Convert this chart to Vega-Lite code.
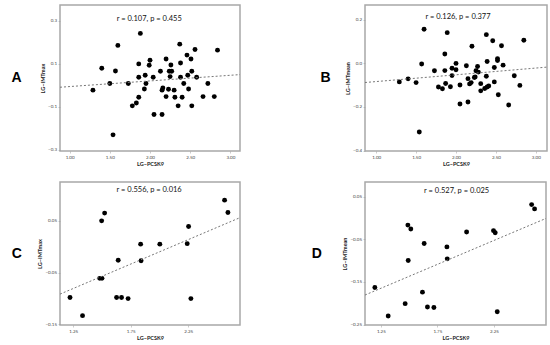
{
  "$schema": "https://vega.github.io/schema/vega-lite/v6.json",
  "padding": {"left": 10, "top": 4, "right": 0, "bottom": 0},
  "background": "white",
  "config": {
    "font": "Lato",
    "view": {"stroke": "#a8a8a8", "strokeWidth": 1.5},
    "axis": {"grid": false, "domain": false, "labelFontSize": 4.5, "labelColor": "#444", "labelOverlap": false, "labelSeparation": -60, "labelFlush": false, "labelBound": false, "tickSize": 2, "tickColor": "#999", "tickWidth": 0.5, "titleFontSize": 5.5, "titleFontWeight": "bold", "titleColor": "#222", "labelPadding": 1.5, "titlePadding": 2},
    "title": {"font": "Liberation Sans", "fontSize": 14, "fontWeight": "bold", "color": "#000"}
  },
  "datasets": {
    "A": [
      {"x":1.29,"y":-0.022},{"x":1.40,"y":0.080},{"x":1.50,"y":0.009},{"x":1.57,"y":0.067},{"x":1.60,"y":0.186},{"x":1.54,"y":-0.230},{"x":1.73,"y":0.009},{"x":1.78,"y":-0.095},{"x":1.83,"y":-0.082},{"x":1.86,"y":-0.055},{"x":1.86,"y":0.038},{"x":1.86,"y":0.100},{"x":1.88,"y":0.242},{"x":1.93,"y":-0.017},{"x":1.94,"y":0.047},{"x":1.95,"y":0.009},{"x":1.99,"y":0.094},{"x":2.00,"y":0.117},{"x":2.04,"y":0.038},{"x":2.05,"y":-0.135},{"x":2.13,"y":0.066},{"x":2.15,"y":-0.022},{"x":2.16,"y":-0.012},{"x":2.15,"y":-0.135},{"x":2.20,"y":0.123},{"x":2.20,"y":-0.052},{"x":2.23,"y":-0.018},{"x":2.24,"y":0.066},{"x":2.25,"y":0.041},{"x":2.26,"y":0.095},{"x":2.27,"y":0.066},{"x":2.30,"y":-0.022},{"x":2.31,"y":-0.055},{"x":2.35,"y":-0.095},{"x":2.37,"y":0.192},{"x":2.38,"y":0.104},{"x":2.38,"y":0.038},{"x":2.40,"y":-0.055},{"x":2.42,"y":0.009},{"x":2.46,"y":0.141},{"x":2.47,"y":0.047},{"x":2.48,"y":-0.017},{"x":2.51,"y":0.123},{"x":2.52,"y":0.066},{"x":2.52,"y":-0.095},{"x":2.56,"y":0.167},{"x":2.58,"y":0.038},{"x":2.66,"y":-0.052},{"x":2.72,"y":0.009},{"x":2.80,"y":-0.052},{"x":2.84,"y":0.164}
    ],
    "B": [
      {"x":1.29,"y":-0.085},{"x":1.40,"y":-0.071},{"x":1.50,"y":-0.088},{"x":1.57,"y":-0.003},{"x":1.60,"y":0.157},{"x":1.54,"y":-0.315},{"x":1.73,"y":-0.034},{"x":1.78,"y":-0.108},{"x":1.83,"y":-0.116},{"x":1.86,"y":0.043},{"x":1.86,"y":-0.033},{"x":1.87,"y":-0.092},{"x":1.89,"y":0.141},{"x":1.93,"y":-0.107},{"x":1.95,"y":-0.022},{"x":1.95,"y":-0.056},{"x":2.00,"y":-0.029},{"x":2.00,"y":0.000},{"x":2.05,"y":-0.099},{"x":2.05,"y":-0.186},{"x":2.13,"y":-0.011},{"x":2.15,"y":-0.070},{"x":2.15,"y":-0.177},{"x":2.17,"y":-0.094},{"x":2.20,"y":0.079},{"x":2.19,"y":-0.088},{"x":2.23,"y":-0.065},{"x":2.24,"y":-0.062},{"x":2.25,"y":-0.034},{"x":2.27,"y":-0.014},{"x":2.28,"y":-0.040},{"x":2.31,"y":-0.093},{"x":2.31,"y":-0.126},{"x":2.36,"y":-0.115},{"x":2.38,"y":0.132},{"x":2.38,"y":-0.059},{"x":2.39,"y":0.009},{"x":2.39,"y":-0.108},{"x":2.41,"y":-0.104},{"x":2.46,"y":0.104},{"x":2.48,"y":-0.019},{"x":2.48,"y":-0.085},{"x":2.52,"y":0.022},{"x":2.52,"y":0.013},{"x":2.53,"y":-0.144},{"x":2.57,"y":0.081},{"x":2.59,"y":-0.008},{"x":2.66,"y":-0.191},{"x":2.73,"y":-0.057},{"x":2.80,"y":-0.101},{"x":2.85,"y":0.106}
    ],
    "C": [
      {"x":1.222,"y":-0.098},{"x":1.331,"y":-0.133},{"x":1.480,"y":-0.061},{"x":1.500,"y":-0.061},{"x":1.497,"y":0.050},{"x":1.523,"y":0.065},{"x":1.627,"y":-0.098},{"x":1.670,"y":-0.098},{"x":1.727,"y":-0.100},{"x":1.641,"y":-0.026},{"x":1.836,"y":0.005},{"x":1.840,"y":-0.027},{"x":2.003,"y":0.005},{"x":2.241,"y":0.006},{"x":2.253,"y":0.039},{"x":2.273,"y":-0.100},{"x":2.566,"y":0.090},{"x":2.595,"y":0.066}
    ],
    "D": [
      {"x":1.197,"y":-0.163},{"x":1.315,"y":-0.230},{"x":1.465,"y":-0.201},{"x":1.489,"y":-0.017},{"x":1.515,"y":-0.026},{"x":1.492,"y":-0.100},{"x":1.618,"y":-0.174},{"x":1.633,"y":-0.060},{"x":1.662,"y":-0.209},{"x":1.719,"y":-0.210},{"x":1.834,"y":-0.068},{"x":1.837,"y":-0.096},{"x":2.008,"y":-0.033},{"x":2.246,"y":-0.030},{"x":2.261,"y":-0.035},{"x":2.279,"y":-0.220},{"x":2.583,"y":0.031},{"x":2.609,"y":0.021}
    ]
  },
  "columns": 2,
  "spacing": {"row": 31, "column": 125},
  "bounds": "flush",
  "concat": [
    {
      "width": 180, "height": 146,
      "title": {"text": "A", "orient": "left", "angle": 0, "offset": 14, "anchor": "middle", "baseline": "middle"},
      "layer": [
        {"data": {"name": "A"}, "mark": {"type": "circle", "size": 24, "color": "black", "opacity": 1},
         "encoding": {
           "x": {"field": "x", "type": "quantitative", "scale": {"domain": [0.88, 3.12], "nice": false, "zero": false}, "axis": {"title": "LG−PCSK9", "values": [1.0, 1.5, 2.0, 2.5, 3.0], "format": ".2f", "labelOverlap": false}},
           "y": {"field": "y", "type": "quantitative", "scale": {"domain": [-0.305, 0.374], "nice": false, "zero": false}, "axis": {"title": "LG−IMTmax", "values": [-0.3, -0.2, -0.1, 0.0, 0.1, 0.2, 0.3], "format": ".1f", "labelOverlap": false}}
         }},
        {"data": {"name": "A"}, "transform": [{"regression": "y", "on": "x", "extent": [0.88, 3.12]}],
         "mark": {"type": "line", "strokeDash": [2, 2], "color": "#777", "strokeWidth": 1},
         "encoding": {"x": {"field": "x", "type": "quantitative"}, "y": {"field": "y", "type": "quantitative"}}},
        {"data": {"values": [{"label": "r = 0.107, p = 0.455", "px": 1.99, "py": 0.31}]},
         "mark": {"type": "text", "fontSize": 7.5, "font": "Lato", "color": "#111"},
         "encoding": {"text": {"field": "label"}, "x": {"field": "px", "type": "quantitative"}, "y": {"field": "py", "type": "quantitative"}}}
      ]
    },
    {
      "width": 182, "height": 146,
      "title": {"text": "B", "orient": "left", "angle": 0, "offset": 10, "anchor": "middle", "baseline": "middle"},
      "layer": [
        {"data": {"name": "B"}, "mark": {"type": "circle", "size": 24, "color": "black", "opacity": 1},
         "encoding": {
           "x": {"field": "x", "type": "quantitative", "scale": {"domain": [0.86, 3.14], "nice": false, "zero": false}, "axis": {"title": "LG−PCSK9", "values": [1.0, 1.5, 2.0, 2.5, 3.0], "format": ".2f", "labelOverlap": false}},
           "y": {"field": "y", "type": "quantitative", "scale": {"domain": [-0.402, 0.268], "nice": false, "zero": false}, "axis": {"title": "LG−IMTmean", "values": [-0.4, -0.3, -0.2, -0.1, 0.0, 0.1, 0.2], "format": ".1f", "labelOverlap": false}}
         }},
        {"data": {"name": "B"}, "transform": [{"regression": "y", "on": "x", "extent": [0.86, 3.14]}],
         "mark": {"type": "line", "strokeDash": [2, 2], "color": "#777", "strokeWidth": 1},
         "encoding": {"x": {"field": "x", "type": "quantitative"}, "y": {"field": "y", "type": "quantitative"}}},
        {"data": {"values": [{"label": "r = 0.126, p = 0.377", "px": 2.025, "py": 0.213}]},
         "mark": {"type": "text", "fontSize": 7.5, "font": "Lato", "color": "#111"},
         "encoding": {"text": {"field": "label"}, "x": {"field": "px", "type": "quantitative"}, "y": {"field": "py", "type": "quantitative"}}}
      ]
    },
    {
      "width": 180, "height": 143,
      "title": {"text": "C", "orient": "left", "angle": 0, "offset": 11, "anchor": "middle", "baseline": "middle"},
      "layer": [
        {"data": {"name": "C"}, "mark": {"type": "circle", "size": 24, "color": "black", "opacity": 1},
         "encoding": {
           "x": {"field": "x", "type": "quantitative", "scale": {"domain": [1.135, 2.70], "nice": false, "zero": false}, "axis": {"title": "LG−PCSK9", "values": [1.25, 1.5, 1.75, 2.0, 2.25, 2.5], "format": ".2f", "labelOverlap": false}},
           "y": {"field": "y", "type": "quantitative", "scale": {"domain": [-0.151, 0.125], "nice": false, "zero": false}, "axis": {"title": "LG−IMTmax", "values": [-0.15, -0.1, -0.05, 0.0, 0.05, 0.1], "format": ".2f", "labelOverlap": false}}
         }},
        {"data": {"name": "C"}, "transform": [{"regression": "y", "on": "x", "extent": [1.135, 2.70]}],
         "mark": {"type": "line", "strokeDash": [2, 2], "color": "#777", "strokeWidth": 1},
         "encoding": {"x": {"field": "x", "type": "quantitative"}, "y": {"field": "y", "type": "quantitative"}}},
        {"data": {"values": [{"label": "r = 0.556, p = 0.016", "px": 1.91, "py": 0.109}]},
         "mark": {"type": "text", "fontSize": 7.5, "font": "Lato", "color": "#111"},
         "encoding": {"text": {"field": "label"}, "x": {"field": "px", "type": "quantitative"}, "y": {"field": "py", "type": "quantitative"}}}
      ]
    },
    {
      "width": 181, "height": 143,
      "title": {"text": "D", "orient": "left", "angle": 0, "offset": 16, "anchor": "middle", "baseline": "middle"},
      "layer": [
        {"data": {"name": "D"}, "mark": {"type": "circle", "size": 24, "color": "black", "opacity": 1},
         "encoding": {
           "x": {"field": "x", "type": "quantitative", "scale": {"domain": [1.11, 2.71], "nice": false, "zero": false}, "axis": {"title": "LG−PCSK9", "values": [1.25, 1.5, 1.75, 2.0, 2.25, 2.5], "format": ".2f", "labelOverlap": false}},
           "y": {"field": "y", "type": "quantitative", "scale": {"domain": [-0.251, 0.084], "nice": false, "zero": false}, "axis": {"title": "LG−IMTmean", "values": [-0.25, -0.2, -0.15, -0.1, -0.05, 0.0, 0.05], "format": ".2f", "labelOverlap": false}}
         }},
        {"data": {"name": "D"}, "transform": [{"regression": "y", "on": "x", "extent": [1.11, 2.71]}],
         "mark": {"type": "line", "strokeDash": [2, 2], "color": "#777", "strokeWidth": 1},
         "encoding": {"x": {"field": "x", "type": "quantitative"}, "y": {"field": "y", "type": "quantitative"}}},
        {"data": {"values": [{"label": "r = 0.527, p = 0.025", "px": 1.92, "py": 0.063}]},
         "mark": {"type": "text", "fontSize": 7.5, "font": "Lato", "color": "#111"},
         "encoding": {"text": {"field": "label"}, "x": {"field": "px", "type": "quantitative"}, "y": {"field": "py", "type": "quantitative"}}}
      ]
    }
  ]
}
